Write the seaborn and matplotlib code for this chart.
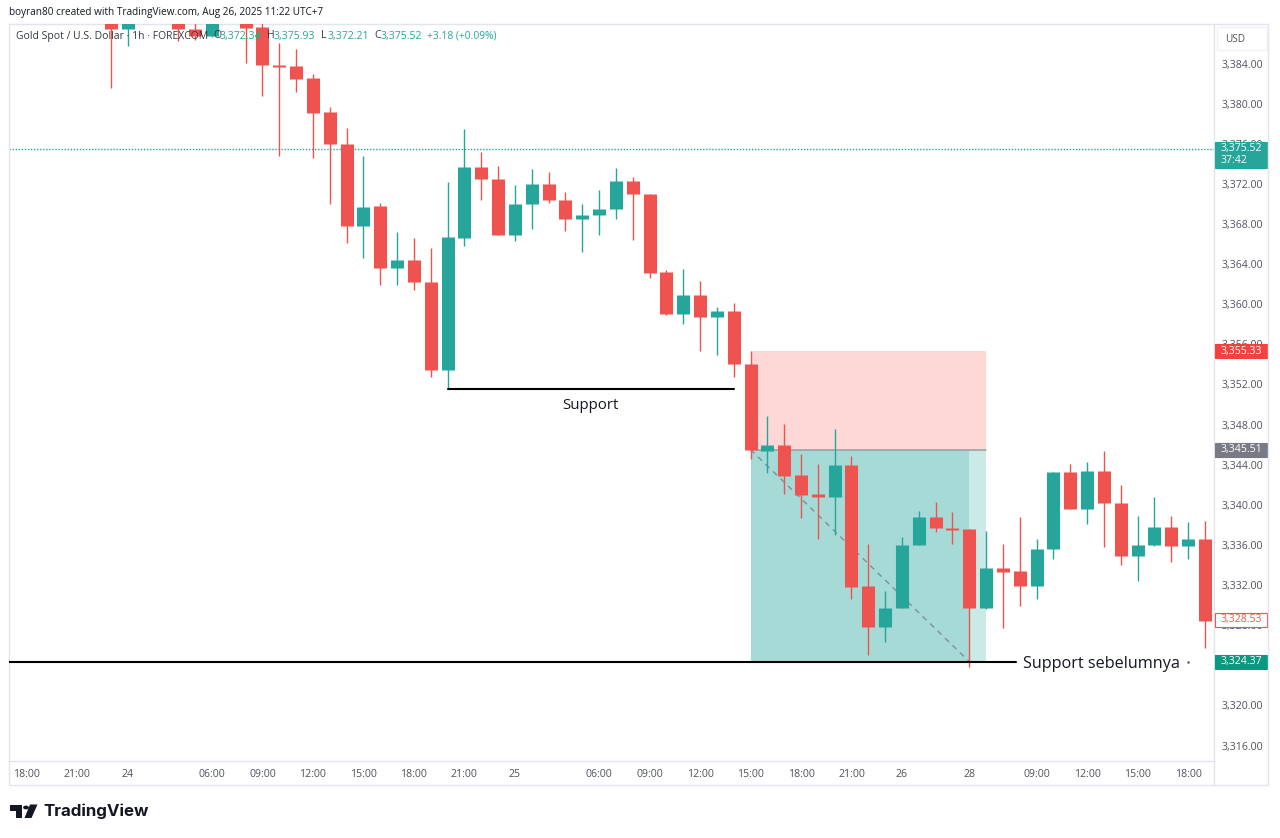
import matplotlib
matplotlib.use("Agg")
import matplotlib.pyplot as plt
from matplotlib.lines import Line2D
from matplotlib.patches import Circle, Polygon, Rectangle
from matplotlib.transforms import blended_transform_factory
import numpy as np
import pandas as pd
import seaborn as sns

# ---- candles (hour slots counted from the first label, 18:00) ----
slots = [5, 6, 9, 10, 11, 13, 14, 15, 16, 17, 18, 19, 20, 21, 22, 23, 24, 25, 26, 27,
         28, 29, 30, 31, 32, 33, 34, 35, 36, 37, 38, 39, 40, 41, 42, 43, 44, 45, 46, 47,
         48, 49, 50, 51, 52, 53, 54, 55, 56, 57, 58, 59, 60, 61, 62, 63, 64, 65, 66, 67,
         68, 69, 70]
opens = [3388.2, 3387.4, 3388.3, 3387.44, 3386.7, 3388.4, 3387.65, 3383.85, 3383.8, 3382.55,
         3379.15, 3376.0, 3367.8, 3369.8, 3363.6, 3364.4, 3362.25, 3353.4, 3366.6, 3373.7,
         3372.5, 3366.9, 3370.0, 3372.0, 3370.4, 3368.45, 3368.85, 3369.45, 3372.25, 3371.0,
         3363.2, 3359.05, 3360.9, 3358.7, 3359.35, 3354.05, 3345.35, 3345.95, 3343.0, 3341.05,
         3340.8, 3343.95, 3331.9, 3327.8, 3329.7, 3336.0, 3338.8, 3337.7, 3337.55, 3329.7,
         3333.7, 3333.4, 3331.95, 3335.6, 3343.25, 3339.6, 3343.4, 3340.15, 3334.9, 3335.95,
         3337.8, 3335.85, 3336.6]
closes = [3387.44, 3388.2, 3387.44, 3386.7, 3388.2, 3387.55, 3383.85, 3383.7, 3382.5, 3379.1,
          3375.97, 3367.8, 3369.74, 3363.6, 3364.4, 3362.2, 3353.4, 3366.7, 3373.7, 3372.5,
          3366.9, 3370.0, 3372.0, 3370.4, 3368.45, 3368.85, 3369.45, 3372.25, 3371.0, 3363.15,
          3359.05, 3360.9, 3358.7, 3359.35, 3354.0, 3345.5, 3345.95, 3342.9, 3341.0, 3340.8,
          3343.95, 3331.85, 3327.8, 3329.7, 3336.0, 3338.8, 3337.7, 3337.5, 3329.7, 3333.7,
          3333.35, 3331.95, 3335.6, 3343.25, 3339.6, 3343.4, 3340.15, 3334.9, 3335.95, 3337.8,
          3335.85, 3336.6, 3328.45]
highs = [3388.5, 3388.4, 3388.4, 3388.0, 3388.3, 3388.5, 3388.0, 3386.04, 3385.4, 3383.0,
         3379.66, 3377.57, 3374.8, 3370.1, 3367.2, 3366.6, 3365.6, 3372.2, 3377.45, 3375.2,
         3373.8, 3371.9, 3373.45, 3373.2, 3371.2, 3370.0, 3371.4, 3373.55, 3372.7, 3371.0,
         3363.45, 3363.5, 3362.35, 3359.7, 3360.15, 3355.3, 3348.85, 3348.05, 3345.1, 3344.05,
         3347.6, 3344.85, 3336.05, 3331.45, 3336.8, 3339.4, 3340.3, 3339.25, 3337.55, 3337.4,
         3336.1, 3338.75, 3336.55, 3343.25, 3344.05, 3344.25, 3345.35, 3341.95, 3338.9, 3340.8,
         3338.9, 3338.3, 3338.4]
lows = [3381.56, 3385.74, 3386.25, 3386.3, 3386.6, 3384.1, 3380.76, 3374.78, 3381.16, 3374.58,
        3370.0, 3366.1, 3364.6, 3361.9, 3361.9, 3361.4, 3352.75, 3351.55, 3365.8, 3370.4,
        3366.9, 3366.3, 3367.5, 3370.1, 3367.3, 3365.25, 3366.9, 3368.45, 3366.4, 3362.6,
        3358.9, 3358.0, 3355.35, 3354.9, 3352.7, 3344.55, 3343.2, 3341.05, 3338.7, 3336.55,
        3337.0, 3330.6, 3325.0, 3326.35, 3329.7, 3335.95, 3337.25, 3336.1, 3323.8, 3329.6,
        3327.7, 3329.9, 3330.6, 3334.55, 3339.6, 3338.05, 3335.8, 3334.0, 3332.4, 3335.9,
        3334.3, 3334.55, 3325.7]

# ---- axis labels ----
time_slots = [0, 3, 6, 11, 14, 17, 20, 23, 26, 29, 34, 37, 40, 43, 46, 49, 52, 56, 60, 63, 66, 69]
time_labels = ["18:00", "21:00", "24", "06:00", "09:00", "12:00", "15:00", "18:00", "21:00", "25",
               "06:00", "09:00", "12:00", "15:00", "18:00", "21:00", "26", "28",
               "09:00", "12:00", "15:00", "18:00"]
price_ticks = list(range(3316, 3385, 4))

# ---- drawn levels ----
last_price = 3375.52
stop_price = 3355.33
entry_price = 3345.51
target_price = 3324.37
prev_close_price = 3328.53
support_price = 3351.55
old_support_price = 3324.33

RED = "#ef5350"
TEAL = "#26a69a"
BORDER = "#e3e5ec"
TEXT = "#50535e"
FONT = "Open Sans"

sns.set_theme(style="white")
plt.rcParams["font.family"] = [FONT, "DejaVu Sans"]

W, H = 1280, 838
fig = plt.figure(figsize=(W / 100, H / 100), dpi=100, facecolor="white")
ax = fig.add_axes([9 / W, (H - 761) / H, 1205 / W, 737 / H])


def fx(px):
    return px / W


def fy(px):
    return 1 - px / H


def fig_label(px, py, s, color="#131722", size=7.6, **kw):
    fig.text(fx(px), fy(py), s, color=color, fontsize=size, va="center", ha="left", zorder=20, **kw)


# candle frames for seaborn
df = pd.DataFrame({"slot": slots, "open": opens, "close": closes, "high": highs, "low": lows})
df["side"] = np.where(df["close"] >= df["open"], "up", "down")
wicks = df.melt(id_vars=["slot", "side"], value_vars=["high", "low"], value_name="price")
bodies = df.melt(id_vars=["slot", "side"], value_vars=["open", "close"], value_name="price")
palette = {"up": TEAL, "down": RED}

# risk / reward boxes
ax.add_patch(Rectangle((43, entry_price), 14, stop_price - entry_price, fc="#fdd8d6", ec="none", zorder=1))
ax.add_patch(Rectangle((43, target_price), 14, entry_price - target_price, fc="#cbe9e6", ec="none", zorder=1))
ax.add_patch(Rectangle((43, target_price), 13, entry_price - target_price, fc="#a6dad6", ec="none", zorder=1.1))
ax.plot([43, 57], [entry_price, entry_price], color="#9a9ca3", lw=1.1, zorder=1.3)
ax.plot([43, 56], [entry_price, target_price], color="#787b86", lw=1, ls=(0, (4, 3.5)), alpha=0.8, zorder=1.3)

ax.axhline(last_price, color=TEAL, lw=1, ls=(0, (1, 1.2)), zorder=1)

sns.lineplot(data=wicks, x="slot", y="price", units="slot", estimator=None, hue="side", palette=palette,
             sort=False, legend=False, linewidth=1.0, solid_capstyle="butt", ax=ax, zorder=3)
sns.lineplot(data=bodies, x="slot", y="price", units="slot", estimator=None, hue="side", palette=palette,
             sort=False, legend=False, linewidth=9.4, solid_capstyle="butt", ax=ax, zorder=4)

# support lines
ax.plot([25, 42], [support_price, support_price], color="black", lw=1.5, zorder=5)
ax.plot([-1.06, 58.8], [old_support_price, old_support_price], color="black", lw=1.5, zorder=5)
ax.text(33.5, 3349.95, "Support", color="#131722", fontsize=10.8, ha="center", va="center", zorder=6)
ax.text(59.2, old_support_price - 0.15, "Support sebelumnya", color="#131722", fontsize=11.7, ha="left",
        va="center", zorder=6)
ax.plot([69], [old_support_price], marker=".", ms=1.5, color="#555555", zorder=6)

ax.set_xlim(-1.06, 70.54)
ax.set_ylim(3314.46, 3387.94)
ax.set_xlabel("")
ax.set_ylabel("")
ax.set_xticks(time_slots)
ax.set_xticklabels(time_labels)
ax.set_yticks(price_ticks)
ax.set_yticklabels([f"{p:,.2f}" for p in price_ticks])
ax.yaxis.tick_right()
ax.tick_params(axis="x", length=0, pad=5.5, labelsize=7.6, labelcolor=TEXT)
ax.tick_params(axis="y", length=0, pad=5.5, labelsize=7.6, labelcolor=TEXT)
ax.grid(False)
for spine in ax.spines.values():
    spine.set_color(BORDER)
    spine.set_linewidth(1)

# price tags on the right scale
tag_tf = blended_transform_factory(fig.transFigure, ax.transData)


def price_tag(price, label, fc, ec=None, color="white", below=None):
    unit = 1 / 10.03
    top, bottom = price + 7 * unit, price - 7 * unit
    if below:
        bottom = price - 19 * unit
    ax.add_patch(Rectangle((fx(1215), bottom), 52 / W, top - bottom, transform=tag_tf, fc=fc,
                           ec=ec or fc, lw=0.8, clip_on=False, zorder=10))
    ax.text(fx(1221), price, label, transform=tag_tf, color=color, fontsize=7.6, va="center", ha="left",
            clip_on=False, zorder=11)
    if below:
        ax.text(fx(1221), price - 12 * unit, below, transform=tag_tf, color=color, fontsize=7.6, va="center",
                ha="left", clip_on=False, zorder=11)


price_tag(last_price, f"{last_price:,.2f}", TEAL, below="37:42")
price_tag(stop_price, f"{stop_price:,.2f}", "#f0433f")
price_tag(entry_price, f"{entry_price:,.2f}", "#787b86")
price_tag(prev_close_price, f"{prev_close_price:,.2f}", "white", ec=RED, color=RED)
price_tag(target_price, f"{target_price:,.2f}", "#089981")

# outer frame of the scale areas
for x0, y0, x1, y1 in [(1268, 24, 1268, 785), (9, 785, 1268, 785), (9, 761, 9, 785), (1214, 761, 1214, 785),
                       (1214, 24, 1268, 24)]:
    fig.add_artist(Line2D([fx(x0), fx(x1)], [fy(y0), fy(y1)], color=BORDER, lw=1))
fig.add_artist(Rectangle((fx(1217), fy(50)), 50 / W, 23 / H, fc="white", ec="#f0f1f5", lw=1))
fig_label(1225, 39, "USD", color=TEXT, size=7.2)

# header texts
fig_label(9, 13, "boyran80 created with TradingView.com, Aug 26, 2025 11:22 UTC+7", size=7.22)
fig_label(16, 36, "Gold Spot / U.S. Dollar · 1h · FOREXCOM", size=7.5, color="#333842")
for px, name, value in [(213, "O", "3,372.34"), (267, "H", "3,375.93"), (321, "L", "3,372.21"), (374, "C", "3,375.52")]:
    fig_label(px, 36, name, size=7.6, color="#333842")
    fig_label(px + 6.5, 36, value, size=7.6, color=TEAL)
fig_label(427, 36, "+3.18 (+0.09%)", size=7.4, color=TEAL)


# TradingView logo
def logo_shape(points):
    fig.add_artist(Polygon([(fx(x), fy(y)) for x, y in points], closed=True, fc="#131722", ec="none",
                           transform=fig.transFigure))


logo_shape([(10, 804.5), (22, 804.5), (22, 818), (16, 818), (16, 810.5), (10, 810.5)])
logo_shape([(30, 804.5), (37.5, 804.5), (31.5, 818), (24.5, 818)])
fig.add_artist(Circle((fx(26), fy(807.5)), 2.9 / W, fc="#131722", ec="none", transform=fig.transFigure))
fig_label(43, 811.5, "TradingView", size=12.2, color="#131722", fontweight="bold", family=["Inter", "DejaVu Sans"])

fig.savefig("out.png", dpi=100)
plt.close(fig)
